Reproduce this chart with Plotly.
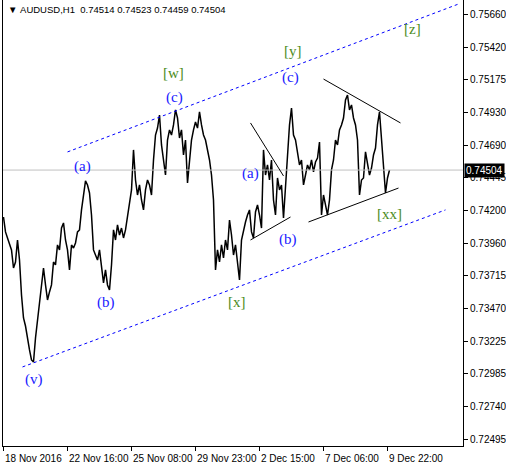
import plotly.graph_objects as go

# ---------------- data ----------------
symbol_header = "AUDUSD,H1"
ohlc_last = ["0.74514", "0.74523", "0.74459", "0.74504"]
last_close = 0.74504

# close prices sampled every 2 H1 bars from 18 Nov 2016 00:00
closes = [
    0.74154, 0.74043, 0.73998, 0.73946, 0.73909, 0.73774, 0.73819, 0.73983, 0.73834, 0.73573,
    0.73402, 0.73342, 0.73238, 0.73164, 0.73089, 0.73074, 0.73253, 0.73372, 0.73536, 0.73611,
    0.73774, 0.73648, 0.73536, 0.73596, 0.73648, 0.73819, 0.73797, 0.73946, 0.73909, 0.74072,
    0.74110, 0.73983, 0.73909, 0.73760, 0.73946, 0.73923, 0.73961, 0.74043, 0.74058, 0.74207,
    0.74318, 0.74423, 0.74393, 0.74333, 0.74169, 0.73909, 0.73871,
    0.73834, 0.73909, 0.73760, 0.73663, 0.73760, 0.73648, 0.73611, 0.73797, 0.74058, 0.73983,
    0.74095, 0.74020, 0.74072, 0.73998, 0.74058, 0.74169, 0.74281, 0.74356, 0.74654, 0.74430,
    0.74318, 0.74393, 0.74281, 0.74207, 0.74356, 0.74430, 0.74393, 0.74318, 0.74579, 0.74765,
    0.74817, 0.74914, 0.74691, 0.74579, 0.74467, 0.74728, 0.74803, 0.74765, 0.74840, 0.74952,
    0.74892, 0.74743, 0.74803, 0.74616,
    0.74728, 0.74408, 0.74579, 0.74728, 0.74803, 0.74862, 0.74817, 0.74937, 0.74840, 0.74765,
    0.74728, 0.74654, 0.74579, 0.74467, 0.74281, 0.73760, 0.73909, 0.73819, 0.73946, 0.73849,
    0.73983, 0.73909, 0.74132, 0.74020, 0.73871, 0.73946, 0.73797, 0.73685, 0.73983, 0.74058,
    0.74117, 0.74169, 0.74207, 0.74043, 0.73998, 0.74192, 0.74244, 0.74169, 0.74072, 0.74654,
    0.74467, 0.74542, 0.74430, 0.74579, 0.74281, 0.74169,
    0.74445, 0.74356, 0.74393, 0.74147, 0.74393, 0.74654, 0.74840, 0.74966, 0.74765, 0.74728,
    0.74616, 0.74542, 0.74579, 0.74393, 0.74467, 0.74542, 0.74505, 0.74579, 0.74490, 0.74564,
    0.74594, 0.74713, 0.74169, 0.74318, 0.74244, 0.74169, 0.74281, 0.74505, 0.74579, 0.74728,
    0.74691, 0.74803, 0.74840, 0.74892, 0.75026, 0.75063, 0.74952, 0.74989, 0.74892, 0.74840,
    0.74728, 0.74318, 0.74430, 0.74445, 0.74639,
    0.74542, 0.74467, 0.74519, 0.74616, 0.74668, 0.74840, 0.74937, 0.74743, 0.74579, 0.74333,
    0.74445, 0.74504,
]
bar_index = list(range(0, 2 * len(closes), 2))

# axis ticks
x_tick_bars = [0, 64, 128, 192, 256, 320, 384]
x_tick_labels = ["18 Nov 2016", "22 Nov 16:00", "25 Nov 08:00", "29 Nov 23:00",
                 "2 Dec 15:00", "7 Dec 06:00", "9 Dec 22:00"]
y_tick_values = [0.75660, 0.75420, 0.75175, 0.74930, 0.74690, 0.74445, 0.74200,
                 0.73960, 0.73715, 0.73470, 0.73225, 0.72985, 0.72740, 0.72495]

# wave labels: (text, bar, price, kind)
wave_labels = [
    ("(v)", 30, 0.72940, "minor"),
    ("(a)", 79, 0.74534, "minor"),
    ("(b)", 102, 0.73514, "minor"),
    ("(c)", 171, 0.75048, "minor"),
    ("[w]", 170, 0.75227, "major"),
    ("[x]", 233, 0.73521, "major"),
    ("(a)", 247, 0.74482, "minor"),
    ("(b)", 284, 0.73983, "minor"),
    ("(c)", 287, 0.75197, "minor"),
    ("[y]", 289, 0.75391, "major"),
    ("[xx]", 386, 0.74177, "major"),
    ("[z]", 409, 0.75555, "major"),
]

# drawn trendlines: (bar0, price0, bar1, price1)
channel_lines = [
    (64, 0.74639, 455, 0.75741),
    (19, 0.73037, 442, 0.74207),
]
triangle_lines = [
    (247, 0.74855, 280, 0.74460),
    (247, 0.73983, 287, 0.74154),
    (320, 0.75182, 397, 0.74855),
    (305, 0.74117, 395, 0.74370),
]

# ---------------- figure ----------------
FONT = "Liberation Sans, Arial, sans-serif"
SERIF = "Liberation Serif, Times New Roman, serif"
BLUE = "#2020ff"
GREEN = "#4c8c1c"

fig = go.Figure()
fig.add_trace(go.Scatter(x=bar_index, y=closes, mode="lines",
                         line=dict(color="black", width=1.5), hoverinfo="skip"))

shapes = []
shapes.append(dict(type="line", xref="paper", x0=0, x1=1, yref="y",
                   y0=last_close, y1=last_close, line=dict(color="#c0c0c0", width=1)))
for b0, p0, b1, p1 in channel_lines:
    shapes.append(dict(type="line", xref="x", yref="y", x0=b0, y0=p0, x1=b1, y1=p1,
                       line=dict(color="#0000ff", width=1, dash="3px,3px")))
for b0, p0, b1, p1 in triangle_lines:
    shapes.append(dict(type="line", xref="x", yref="y", x0=b0, y0=p0, x1=b1, y1=p1,
                       line=dict(color="black", width=1)))

annotations = []
for text, b, p, kind in wave_labels:
    annotations.append(dict(x=b, y=p, xref="x", yref="y", text=text, showarrow=False,
                            font=dict(family=SERIF, size=15,
                                      color=BLUE if kind == "minor" else GREEN),
                            xanchor="center", yanchor="middle"))
for b, lab in zip(x_tick_bars, x_tick_labels):
    annotations.append(dict(x=b - 0.5, y=-0.012, xref="x", yref="paper", text=lab,
                            showarrow=False, xanchor="left", yanchor="top",
                            font=dict(family=FONT, size=10, color="black")))
annotations.append(dict(x=1, y=last_close, xref="paper", yref="y",
                        text=f"{last_close:.5f}", showarrow=False,
                        xanchor="left", yanchor="middle", xshift=1,
                        bgcolor="black", borderpad=1,
                        font=dict(family=FONT, size=10, color="white")))
annotations.append(dict(x=0.006, y=0.978, xref="paper", yref="paper",
                        text="▼\u00a0" + symbol_header + "\u00a0\u00a0" + "\u00a0".join(ohlc_last),
                        showarrow=False, xanchor="left", yanchor="middle",
                        font=dict(family=FONT, size=9.5, color="black")))

fig.update_layout(
    width=506, height=467, autosize=False,
    margin=dict(l=3, r=43, t=0, b=21, pad=0),
    paper_bgcolor="white", plot_bgcolor="white",
    showlegend=False,
    shapes=shapes, annotations=annotations,
    xaxis=dict(range=[-0.5, 459.5], tickvals=x_tick_bars, showticklabels=False,
               ticks="outside", ticklen=4, tickcolor="black",
               showline=True, linecolor="black", linewidth=1,
               showgrid=False, zeroline=False, fixedrange=True),
    yaxis=dict(range=[0.72448, 0.75771], side="right", tickvals=y_tick_values,
               ticktext=[f"{v:.5f}" for v in y_tick_values],
               ticks="outside", ticklen=4, tickcolor="black",
               tickfont=dict(family=FONT, size=10, color="black"),
               showline=True, linecolor="black", linewidth=1, mirror=True,
               showgrid=False, zeroline=False, fixedrange=True),
)

fig.write_html("out.html", config={"displayModeBar": False},
               post_script="document.body.style.margin='0';document.body.style.overflow='hidden';")
